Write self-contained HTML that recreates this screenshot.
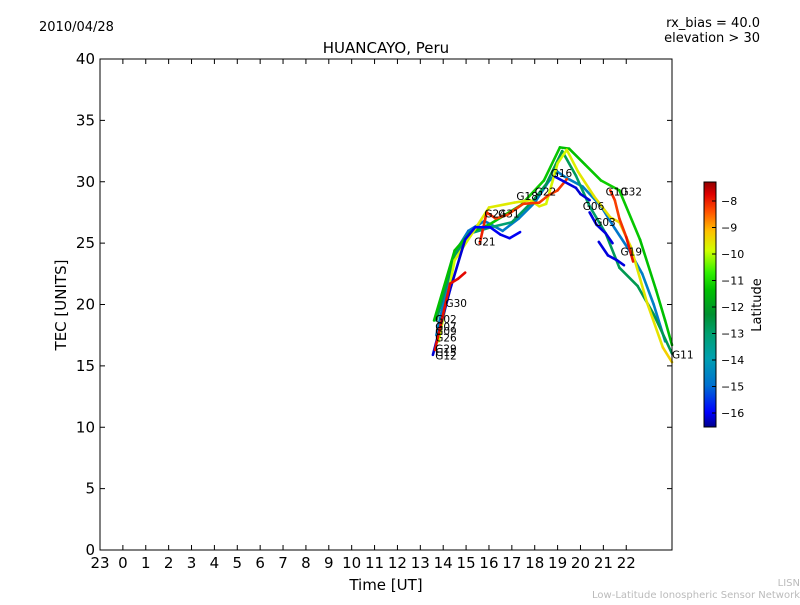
<!DOCTYPE html>
<html><head><meta charset="utf-8"><style>
body{margin:0;background:#fff;font-family:"Liberation Sans","DejaVu Sans",sans-serif}
svg text{font-family:"DejaVu Sans","Liberation Sans",sans-serif}
</style></head><body>
<svg id="chart" width="800" height="600" viewBox="0 0 800 600" xmlns="http://www.w3.org/2000/svg">
<defs>
<linearGradient id="cb" x1="0" y1="1" x2="0" y2="0">
<stop offset="0" stop-color="#00008b"/><stop offset="0.06" stop-color="#0000ff"/>
<stop offset="0.17" stop-color="#0070d0"/><stop offset="0.28" stop-color="#00a0b0"/>
<stop offset="0.38" stop-color="#00a070"/><stop offset="0.46" stop-color="#009030"/>
<stop offset="0.56" stop-color="#00c000"/><stop offset="0.63" stop-color="#30f000"/>
<stop offset="0.72" stop-color="#d0ff00"/><stop offset="0.8" stop-color="#ffc000"/>
<stop offset="0.88" stop-color="#ff5000"/><stop offset="0.95" stop-color="#e00000"/>
<stop offset="1" stop-color="#900000"/>
</linearGradient>
</defs>
<text x="39" y="31" font-size="13">2010/04/28</text>
<text x="760" y="27" font-size="13" text-anchor="end">rx_bias = 40.0</text>
<text x="760" y="42" font-size="13" text-anchor="end">elevation &gt; 30</text>
<text x="386" y="53" font-size="15" text-anchor="middle">HUANCAYO, Peru</text>
<g id="ticks"></g>
<g id="tracks"></g>
<g id="labels" font-size="10.5"></g>
<rect x="100" y="59" width="572" height="491" fill="none" stroke="#000" stroke-width="1"/>
<text x="386" y="590" font-size="15" text-anchor="middle">Time [UT]</text>
<text transform="translate(66,305) rotate(-90)" font-size="15" text-anchor="middle">TEC [UNITS]</text>
<rect x="704" y="182" width="12" height="245" fill="url(#cb)" stroke="#000" stroke-width="1"/>
<g id="cbticks" font-size="11"></g>
<text transform="translate(761,305) rotate(-90)" font-size="13" text-anchor="middle">Latitude</text>
<text x="800" y="586" font-size="10" fill="#bbb" text-anchor="end">LISN</text>
<text x="800" y="598" font-size="10" fill="#bbb" text-anchor="end">Low-Latitude Ionospheric Sensor Network</text>
</svg>
<script>
const xTickVals=[-1,0,1,2,3,4,5,6,7,8,9,10,11,12,13,14,15,16,17,18,19,20,21,22];
const xTickLabels=["23","0","1","2","3","4","5","6","7","8","9","10","11","12","13","14","15","16","17","18","19","20","21","22"];
const yTickVals=[0,5,10,15,20,25,30,35,40];
const cbTickVals=[-8,-9,-10,-11,-12,-13,-14,-15,-16];
// tracks: hours, TEC, latitude
const t1h=[13.6,14.5,15.2,16.0,17.4,18.4,19.1,19.5,20.2,20.9,21.7,22.6,23.3,23.7,24.0];
const t1v=[18.7,24.4,25.9,26.5,28.1,30.1,32.8,32.7,31.4,30.1,29.3,25.3,21.2,18.7,16.7];
const t1l=[-12,-12,-12,-12,-11.8,-11.8,-12,-12,-12,-11.8,-11.8,-12,-12,-12,-12];
const t2h=[13.8,14.5,15.2,16.0,17.1,17.8,18.2,18.5,19.0,19.4,19.9,20.6,21.3,21.7,22.2,22.9,23.6,24.0];
const t2v=[17.0,23.6,25.6,27.9,28.3,28.5,28.0,28.2,31.5,32.6,30.8,28.8,27.1,26.7,24.7,20.2,16.5,15.3];
const t2l=[-10.5,-10.5,-10.3,-10.2,-10.3,-10.2,-10.3,-10.3,-10.5,-10.4,-10.2,-10.2,-10.1,-10,-10.1,-10.3,-10,-9.8];
const t3h=[13.7,14.5,15.2,16.1,17.0,17.9,18.5,19.2,19.8,20.4,21.1,21.7,22.5,23.2,24.0];
const t3v=[18.7,24.0,25.8,26.3,26.7,28.4,29.8,32.5,30.5,28.0,25.8,23.0,21.5,19.2,16.0];
const t3l=[-13,-13,-13.2,-13.3,-13.2,-13,-13,-13,-13.1,-13.2,-13.1,-13,-13,-13,-13];
const t4h=[13.55,14.3,14.96,15.4,16.05,16.5,16.9,17.36];
const t4v=[15.9,21.2,25.3,26.3,26.3,25.7,25.4,25.9];
const t4l=[-16.2,-16.2,-16.2,-16,-16,-16.1,-16.1,-16];
const t5h=[13.64,14.3,14.65,14.96];
const t5v=[16.3,21.7,22.1,22.6];
const t5l=[-8,-8,-7.9,-7.9];
const t6h=[13.7,14.5,15.1,15.8,16.6,17.3,18.0,18.6,19.0,19.4,20.1,20.9,21.5,22.1,22.7,23.2,23.7];
const t6v=[17.5,24.2,26.0,26.8,26.0,27.0,28.3,30.0,30.8,30.3,29.6,28.0,26.2,24.5,22.5,20.0,17.0];
const t6l=[-14.8,-14.8,-15,-14.9,-14.8,-14.8,-14.6,-14.7,-14.8,-14.7,-14.6,-14.8,-14.9,-14.8,-14.6,-14.7,-14.8];
const t7h=[15.6,15.9,16.3,16.8,17.5,18.2,18.6,19.0,19.4];
const t7v=[25.0,27.5,27.0,27.3,28.2,28.3,28.9,29.3,30.2];
const t7l=[-8.3,-8.2,-8.5,-8.8,-8.5,-8.6,-8.7,-8.6,-8.4];
const t8h=[18.9,19.3,19.8,20.0,20.4];
const t8v=[30.4,30.0,29.5,29.0,28.5];
const t8l=[-16.1,-16.1,-16.2,-16.2,-16.2];
const t9h=[20.4,20.7,21.1,21.4];
const t9v=[27.5,26.5,25.8,25.0];
const t9l=[-16.2,-16.1,-16.2,-16.1];
const t10h=[20.8,21.2,21.6,21.9];
const t10v=[25.1,24.0,23.6,23.2];
const t10l=[-16.2,-16.1,-16.2,-16.1];
const t11h=[21.3,21.5,21.7,22.0,22.3];
const t11v=[29.3,28.5,27.0,25.5,23.5];
const t11l=[-8.3,-8.5,-8.8,-8.2,-8];
const labelText=["G02","G07","G09","G26","G29","G15","G12","G30","G21","G24","G31","G18","G22","G16","G06","G03","G10","G32","G19","G11"];
const labelH=[13.65,13.65,13.65,13.65,13.65,13.65,13.65,14.1,15.35,15.8,16.4,17.2,18.0,18.7,20.1,20.6,21.1,21.75,21.75,24.0];
const labelV=[18.5,17.9,17.5,17.0,16.1,15.8,15.5,19.8,24.8,27.1,27.1,28.5,28.9,30.4,27.7,26.4,28.9,28.9,24.0,15.6];

const X=h=>100+(h+1)*22.88, Y=v=>550-v*12.275, CB=l=>201+(-8-l)*26.5;
const NS="http://www.w3.org/2000/svg";
function mk(tag,attrs,parent){const e=document.createElementNS(NS,tag);for(const k in attrs)e.setAttribute(k,attrs[k]);parent.appendChild(e);return e;}
const stops=[[-16.53,[0,0,139]],[-16,[0,0,255]],[-15,[0,112,208]],[-14,[0,160,176]],[-13.2,[0,160,112]],[-12.8,[0,144,48]],[-12,[0,192,0]],[-11.3,[48,240,0]],[-10.5,[208,255,0]],[-9.7,[255,192,0]],[-8.9,[255,80,0]],[-7.8,[224,0,0]],[-7.28,[144,0,0]]];
function col(l){if(l<=stops[0][0])return'rgb(0,0,139)';for(let i=1;i<stops.length;i++){if(l<=stops[i][0]){const a=stops[i-1],b=stops[i],t=(l-a[0])/(b[0]-a[0]);const c=a[1].map((v,j)=>Math.round(v+(b[1][j]-v)*t));return`rgb(${c})`;}}return'rgb(144,0,0)';}
const tk=document.getElementById('ticks');
xTickVals.forEach((v,i)=>{const x=X(v);
const a=mk('line',{x1:x,x2:x,y1:550,y2:545,stroke:'#000'},tk);
const b=mk('line',{x1:x,x2:x,y1:59,y2:64,stroke:'#000'},tk);
const t=mk('text',{x:x,y:568,'font-size':15,'text-anchor':'middle'},tk);t.textContent=xTickLabels[i];});
yTickVals.forEach(v=>{const y=Y(v);
const a=mk('line',{x1:100,x2:105,y1:y,y2:y,stroke:'#000'},tk);
const b=mk('line',{x1:667,x2:672,y1:y,y2:y,stroke:'#000'},tk);
const t=mk('text',{x:95,y:y+5,'font-size':15,'text-anchor':'end'},tk);t.textContent=v;});
const cbt=document.getElementById('cbticks');
cbTickVals.forEach(v=>{const y=CB(v);
const a=mk('line',{x1:712,x2:716,y1:y,y2:y,stroke:'#000'},cbt);
const t=mk('text',{x:721,y:y+4,'font-size':11},cbt);t.textContent='\u2212'+(-v);});
const tr=document.getElementById('tracks');
const tracks=[[t6h,t6v,t6l],[t3h,t3v,t3l],[t1h,t1v,t1l],[t2h,t2v,t2l],[t7h,t7v,t7l],[t4h,t4v,t4l],[t5h,t5v,t5l],[t8h,t8v,t8l],[t9h,t9v,t9l],[t10h,t10v,t10l],[t11h,t11v,t11l]];
tracks.forEach((T,k)=>{const g=mk('g',{},tr);
for(let i=1;i<T[0].length;i++){mk('line',{x1:X(T[0][i-1]),y1:Y(T[1][i-1]),x2:X(T[0][i]),y2:Y(T[1][i]),stroke:col((T[2][i-1]+T[2][i])/2),'stroke-width':2.6,'stroke-linecap':'round'},g);}});
const lb=document.getElementById('labels');
labelText.forEach((s,i)=>{const t=mk('text',{x:X(labelH[i]),y:Y(labelV[i])},lb);t.textContent=s;});
</script>
</body></html>
